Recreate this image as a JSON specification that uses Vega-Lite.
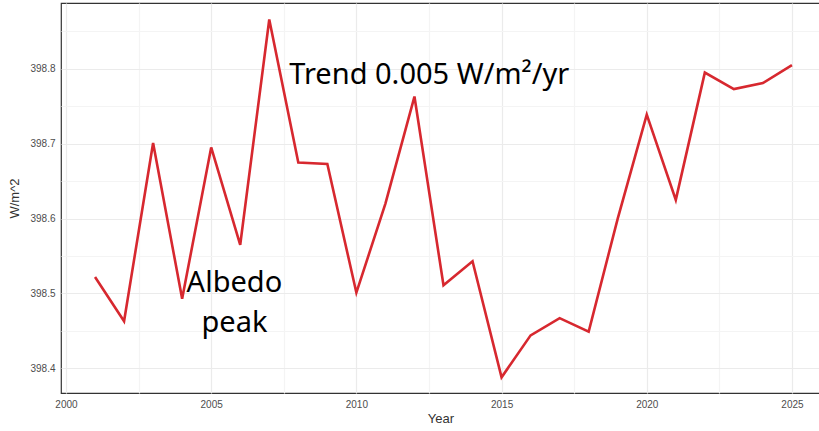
{
  "$schema": "https://vega.github.io/schema/vega-lite/v6.json",
  "width": 759,
  "height": 390,
  "autosize": {"type": "none"},
  "padding": {"left": 61, "top": 3, "right": 0, "bottom": 38},
  "background": "white",
  "config": {
    "view": {"stroke": "#333333", "strokeWidth": 1.2},
    "axis": {"labelFont": "Liberation Sans", "titleFont": "Liberation Sans", "labelColor": "#4d4d4d", "titleColor": "#333333", "labelFontSize": 10, "titleFontSize": 13, "titleFontWeight": "normal", "ticks": false, "domain": false}
  },
  "datasets": {
    "series": [
      {"Year": 2001, "W": 398.522}, {"Year": 2002, "W": 398.463}, {"Year": 2003, "W": 398.701},
      {"Year": 2004, "W": 398.493}, {"Year": 2005, "W": 398.695}, {"Year": 2006, "W": 398.565},
      {"Year": 2007, "W": 398.866}, {"Year": 2008, "W": 398.675}, {"Year": 2009, "W": 398.673},
      {"Year": 2010, "W": 398.501}, {"Year": 2011, "W": 398.620}, {"Year": 2012, "W": 398.763},
      {"Year": 2013, "W": 398.511}, {"Year": 2014, "W": 398.543}, {"Year": 2015, "W": 398.388},
      {"Year": 2016, "W": 398.444}, {"Year": 2017, "W": 398.467}, {"Year": 2018, "W": 398.449},
      {"Year": 2019, "W": 398.600}, {"Year": 2020, "W": 398.739}, {"Year": 2021, "W": 398.625},
      {"Year": 2022, "W": 398.795}, {"Year": 2023, "W": 398.773}, {"Year": 2024, "W": 398.781},
      {"Year": 2025, "W": 398.805}
    ],
    "trend": [
      {"Year": 2007.69, "W": 398.792, "label": "Trend 0.005 W/m²/yr"}
    ],
    "albedo": [
      {"Year": 2005.8, "W": 398.514, "label": "Albedo"},
      {"Year": 2005.8, "W": 398.461, "label": "peak"}
    ]
  },
  "layer": [
    {
      "data": {"name": "series"},
      "mark": {"type": "line", "color": "#d7282f", "strokeWidth": 2.6, "clip": true},
      "encoding": {
        "x": {
          "field": "Year", "type": "quantitative",
          "scale": {"domain": [1999.828, 2025.966], "nice": false, "zero": false},
          "axis": {
            "title": "Year", "titlePadding": 3,
            "values": [2000, 2002.5, 2005, 2007.5, 2010, 2012.5, 2015, 2017.5, 2020, 2022.5, 2025],
            "labelExpr": "datum.value % 5 === 0 ? format(datum.value, 'd') : ''",
            "labelPadding": 6,
            "gridColor": {"condition": {"test": "datum.value % 5 === 0", "value": "#ebebeb"}, "value": "#f4f4f4"},
            "gridWidth": 1.2
          }
        },
        "y": {
          "field": "W", "type": "quantitative",
          "scale": {"domain": [398.367, 398.888], "nice": false, "zero": false},
          "axis": {
            "title": "W/m^2", "titlePadding": 8,
            "values": [398.4, 398.45, 398.5, 398.55, 398.6, 398.65, 398.7, 398.75, 398.8, 398.85],
            "labelExpr": "abs(datum.value * 10 - round(datum.value * 10)) < 0.001 ? format(datum.value, '.1f') : ''",
            "labelPadding": 6,
            "gridColor": {"condition": {"test": "abs(datum.value * 10 - round(datum.value * 10)) < 0.001", "value": "#ebebeb"}, "value": "#f4f4f4"},
            "gridWidth": 1.2
          }
        }
      }
    },
    {
      "data": {"name": "trend"},
      "mark": {"type": "text", "font": "Noto Sans", "fontSize": 29, "color": "#000000", "baseline": "middle", "align": "left"},
      "encoding": {
        "x": {"field": "Year", "type": "quantitative"},
        "y": {"field": "W", "type": "quantitative"},
        "text": {"field": "label"}
      }
    },
    {
      "data": {"name": "albedo"},
      "mark": {"type": "text", "font": "Noto Sans", "fontSize": 29, "color": "#000000", "baseline": "middle", "align": "center"},
      "encoding": {
        "x": {"field": "Year", "type": "quantitative"},
        "y": {"field": "W", "type": "quantitative"},
        "text": {"field": "label"}
      }
    }
  ]
}
